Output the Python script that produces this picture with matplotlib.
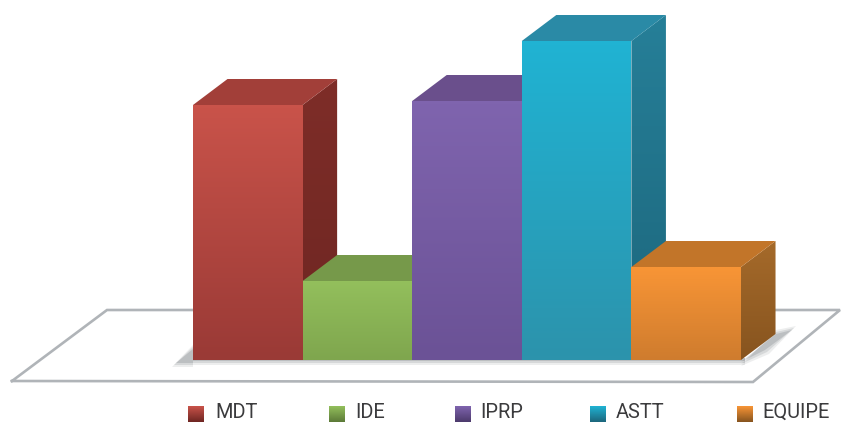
import numpy as np
import matplotlib
matplotlib.use('Agg')
import matplotlib.pyplot as plt
from matplotlib.colors import LinearSegmentedColormap
from matplotlib.patches import Polygon

categories = ['MDT', 'IDE', 'IPRP', 'ASTT', 'EQUIPE']
values = [255, 79, 259, 319, 93]
front_top = ['#c9534a', '#93bf5c', '#7f64ae', '#20b3d3', '#f89536']
front_bottom = ['#9a3a36', '#7fa64e', '#6b5296', '#2c93ac', '#cf7c2e']
side_top = ['#7e2d28', '#6a8a40', '#5a4580', '#267f98', '#a56a2a']
side_bottom = ['#6e2622', '#5c7a38', '#4c3a6c', '#1c667c', '#87541f']
roof_color = ['#a23f39', '#76994a', '#6a4f8c', '#2a8aa6', '#c27529']
legend_x = [188, 329, 455, 590, 737]
label_x = [215, 355, 480, 616, 762]

W, H = 841, 423
slot = 109.6     # px per bar
left = 193       # px of first bar
base = 360       # px of the zero line
dx, dy = 0.315, 26

fig = plt.figure(figsize=(W / 100, H / 100), dpi=100)
ax = fig.add_axes([0, 0, 1, 1])
xlim = (-left / slot, (W - left) / slot)
ylim = (base - H, base)


def px(x, y):
    # picture pixels to data units, only for the floor and its shadow
    return ((x - left) / slot, base - y)


def shade(poly, c1, c2, zorder):
    xs = [p[0] for p in poly]
    ys = [p[1] for p in poly]
    cmap = LinearSegmentedColormap.from_list('g', [c1, c2])
    im = ax.imshow(np.linspace(0, 1, 64).reshape(-1, 1), cmap=cmap, aspect='auto',
                   extent=[min(xs), max(xs), min(ys), max(ys)], zorder=zorder,
                   interpolation='bilinear')
    clip = Polygon(poly, closed=True, transform=ax.transData, fc='none', ec='none')
    ax.add_patch(clip)
    im.set_clip_path(clip)


# floor outline
floor = [(12, 381), (107, 310), (840, 310), (753, 382), (12, 381)]
ax.plot(*zip(*[px(*p) for p in floor]), color='#b0b4b8', lw=1.9, zorder=1,
        solid_joinstyle='miter')

# soft shadows on the floor
for grow, a in [(4, 0.12), (2, 0.18), (0, 0.25)]:
    ax.add_patch(Polygon([px(176 - grow, 363 + grow), px(193, 349 - grow), px(193, 363 + grow)],
                         fc='#70757a', ec='none', alpha=a, zorder=2))
    ax.add_patch(Polygon([px(193, 358), px(745, 358), px(745, 361 + grow), px(193, 361 + grow)],
                         fc='#70757a', ec='none', alpha=a, zorder=2))
    ax.add_patch(Polygon([px(741, 362 + grow), px(776, 334 - grow), px(792 + grow, 330 - grow),
                          px(765 + grow, 350 + grow)], fc='#70757a', ec='none', alpha=a, zorder=2))

for i, v in enumerate(values):
    z = 3 + i
    x0, x1 = i, i + 1
    front = [(x0, 0), (x1, 0), (x1, v), (x0, v)]
    side = [(x1, 0), (x1 + dx, dy), (x1 + dx, v + dy), (x1, v)]
    roof = [(x0, v), (x0 + dx, v + dy), (x1 + dx, v + dy), (x1, v)]
    shade(side, side_top[i], side_bottom[i], z)
    ax.add_patch(Polygon(roof, fc=roof_color[i], ec='none', zorder=z))
    shade(front, front_top[i], front_bottom[i], z + 0.5)

# legend
for i, name in enumerate(categories):
    sx = legend_x[i]
    sq = [px(sx, 422), px(sx + 16, 422), px(sx + 16, 406), px(sx, 406)]
    shade(sq, front_top[i], side_bottom[i], 10)
    ax.text(px(label_x[i], 0)[0], px(0, 412.5)[1], name, family='Roboto', fontsize=14.4,
            color='#3b3b3d', va='center', ha='left', zorder=10)

ax.set_xlim(*xlim)
ax.set_ylim(*ylim)
ax.axis('off')
fig.savefig('out.png', dpi=100)
